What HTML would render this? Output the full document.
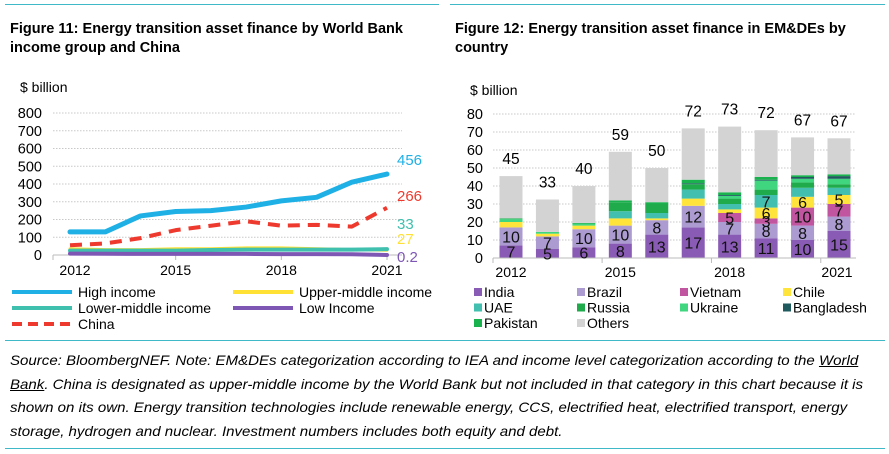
<!DOCTYPE html>
<html><head><meta charset="utf-8">
<style>
body{margin:0;width:889px;height:454px;background:#fff;font-family:"Liberation Sans",Arial,sans-serif;overflow:hidden;position:relative}
.t{position:absolute;font-weight:bold;font-size:14.5px;line-height:19px;color:#000}
.rule{position:absolute;height:1px;background:#3fb8c8}
.src{position:absolute;left:10px;top:349px;white-space:nowrap;font-style:italic;font-size:14px;line-height:23.5px;color:#000;transform-origin:0 0;transform:scaleX(1.075)}
svg{position:absolute;left:0;top:0}
svg text{font-family:"Liberation Sans",Arial,sans-serif}
</style></head><body>
<div class="rule" style="left:5px;top:4px;width:434px"></div>
<div class="rule" style="left:450px;top:4px;width:435px"></div>
<div class="t" style="left:10px;top:20px">Figure 11: Energy transition asset finance by World Bank<br>income group and China</div>
<div class="t" style="left:455px;top:20px">Figure 12: Energy transition asset finance in EM&amp;DEs by<br>country</div>
<div class="rule" style="left:5px;top:340px;width:880px"></div>
<div class="src">Source: BloombergNEF. Note: EM&amp;DEs categorization according to IEA and income level categorization according to the <u>World</u><br><u>Bank</u>. China is designated as upper-middle income by the World Bank but not included in that category in this chart because it is<br>shown on its own. Energy transition technologies include renewable energy, CCS, electrified heat, electrified transport, energy<br>storage, hydrogen and nuclear. Investment numbers includes both equity and debt.</div>
<div class="rule" style="left:5px;top:448px;width:880px"></div>
<svg id="s" width="889" height="454"></svg>
<script>
// ---- Figure 11 data ----
const years = [2012,2013,2014,2015,2016,2017,2018,2019,2020,2021];
const highIncome = [130,130,220,245,250,270,305,325,410,456];
const china = [55,65,95,140,165,190,165,170,160,266];
const upperMiddle = [35,30,30,35,35,40,40,35,30,27];
const lowerMiddle = [25,25,25,25,28,30,30,30,30,33];
const lowIncome = [8,7,6,6,6,6,5,5,4,0.2];
const leftTicks = [0,100,200,300,400,500,600,700,800];
const endLabels = ["456","266","33","27","0.2"];
// ---- Figure 12 data ----
const countries = ["India","Brazil","Vietnam","Chile","UAE","Russia","Ukraine","Bangladesh","Pakistan","Others"];
const india = [7,5,6,8,13,17,13,11,10,15];
const brazil = [10,7,10,10,8,12,7,8,8,8];
const vietnam = [0,0,0,0,0,0,5,3,10,7];
const chile = [3,1.5,2,4,1,4,2,6,6,5];
const uae = [0,0,0,4,3,5,3,7,5,4];
const russia = [0,0,0,5,5,3,3,3,3,2];
const ukraine = [1.5,1,1,0,0,0,1.5,5,2,3];
const bangladesh = [0,0,0,0,0,0.5,0.5,0.5,1,1.5];
const pakistan = [0.5,0,0.5,1,1,2,1.5,1.5,1,1];
const others = [23.5,18,20.5,27,19,28.5,36.5,26,21,20];
const totalLabels = ["45","33","40","59","50","72","73","72","67","67"];
const rightTicks = [0,10,20,30,40,50,60,70,80];
const xTickYears = [2012,2015,2018,2021];

const NS="http://www.w3.org/2000/svg";
const svg=document.getElementById('s');
function el(tag,attrs,parent){const e=document.createElementNS(NS,tag);for(const k in attrs)e.setAttribute(k,attrs[k]);(parent||svg).appendChild(e);return e;}
function txt(x,y,s,attrs){const e=el('text',Object.assign({x:x,y:y},attrs||{}));e.textContent=s;return e;}

// ---------- Left chart ----------
const L={x0:53,x1:402,y0:255,y1:113,max:800};
const ly=v=>L.y0-(v/L.max)*(L.y0-L.y1);
const lx=i=>70+i*(387-70)/(years.length-1);
let g=el('g',{});


let t=txt(20,92,"$ billion",{'font-size':14});


leftTicks.forEach(v=>{
  if(v>0){const gl=el('line',{x1:L.x0,x2:L.x1,y1:ly(v),y2:ly(v),stroke:'#c8c8c8','stroke-dasharray':'1.5,1.5'},g);
  }
  const tt=txt(42,ly(v)+5,String(v),{'font-size':14.5,'text-anchor':'end'},);
  
  
});
let ax=el('line',{x1:L.x0,x2:L.x1,y1:L.y0,y2:L.y0,stroke:'#bbb'},g);

xTickYears.forEach(y=>{const i=years.indexOf(y);
  const tk=el('line',{x1:lx(i)+(i===0?-17:0),x2:lx(i)+(i===0?-17:0),y1:L.y0,y2:L.y0+5,stroke:'#bbb'},g);
  
  const tt=txt(lx(i)+(i===0?5:0),L.y0+20,String(y),{'font-size':14,'text-anchor':'middle'});
  
});
function line(data,color,w,dash,name){
  const p=el('polyline',{points:data.map((v,i)=>lx(i)+','+ly(v)).join(' '),fill:'none',stroke:color,'stroke-width':w,'stroke-linejoin':'round','stroke-linecap':dash?'butt':'round'},g);
  if(dash)p.setAttribute('stroke-dasharray',dash);
  
}
line(upperMiddle,'#ffe135',3,null,'upper-middle-income-line');
line(lowerMiddle,'#3fbfae',4,null,'lower-middle-income-line');
line(lowIncome,'#7e57b5',4,null,'low-income-line');
line(china,'#ee3a2e',4,'12,8','china-line');
line(highIncome,'#1fb0e6',5,null,'high-income-line');
[[456,'#1fb0e6',0],[266,'#ee3a2e',1],[33,'#3fbfae',2],[27,'#ffe135',3],[0.2,'#7e57b5',4]].forEach((d,k)=>{
  const yy=[ly(456)-9,ly(266)-7,ly(33)-20,ly(27)-6,ly(0.2)+7][k];
  const tt=txt(397,yy,endLabels[k],{'font-size':15,fill:d[1]});
  
});
// left legend
[['High income','#1fb0e6',12,292,null],['Upper-middle income','#ffe135',233,292,null],['Lower-middle income','#3fbfae',12,308,null],['Low Income','#7e57b5',233,308,null],['China','#ee3a2e',12,324,'10,6']].forEach(d=>{
  const lg=el('g',{});
  
  const ln=el('line',{x1:d[2],x2:d[2]+60,y1:d[3],y2:d[3],stroke:d[1],'stroke-width':4},lg);
  if(d[4])ln.setAttribute('stroke-dasharray',d[4]);
  const tt=el('text',{x:d[2]+66,y:d[3]+5,'font-size':14},lg);tt.textContent=d[0];
});

// ---------- Right chart ----------
const R={x0:493,x1:856,y0:258,y1:114,max:80};
const ry=v=>R.y0-(v/R.max)*(R.y0-R.y1);
const rx=i=>511+i*(839-511)/(years.length-1);
const bw=23;
const colors=['#8a5bb5','#ab9bd1','#c255a0','#ffe53b','#42bfae','#1fab4c','#40d680','#1f5a5f','#19b24e','#d3d3d3'];
const series=[india,brazil,vietnam,chile,uae,russia,ukraine,bangladesh,pakistan,others];
const segLabels=[india.map(String),brazil.map(String),[null,null,null,null,null,null,"5","3","10","7"],[null,null,null,null,null,null,null,"6","6","5"],[null,null,null,null,null,null,null,"7",null,null]];
let g2=el('g',{});


t=txt(470,95,"$ billion",{'font-size':14});

rightTicks.forEach(v=>{
  if(v>0){const gl=el('line',{x1:R.x0,x2:R.x1,y1:ry(v),y2:ry(v),stroke:'#c8c8c8','stroke-dasharray':'1.5,1.5'},g2);
  }
  const tt=txt(483,ry(v)+5,String(v),{'font-size':14.5,'text-anchor':'end'});
  
});
years.forEach((y,i)=>{
  let base=0;
  series.forEach((s,k)=>{
    const v=s[i]; if(v<=0)return;
    const r=el('rect',{x:rx(i)-bw/2,y:ry(base+v),width:bw,height:ry(base)-ry(base+v),fill:colors[k]},g2);
    
    
    if(k<segLabels.length&&segLabels[k][i]){
      const tt=txt(rx(i),ry(base+v/2)+6,segLabels[k][i],{'font-size':16,'text-anchor':'middle',fill:'#111'});
      
    }
    base+=v;
  });
  const tt=txt(rx(i),ry(base)-12,totalLabels[i],{'font-size':15.5,'text-anchor':'middle'});
  
});
ax=el('line',{x1:R.x0,x2:R.x1,y1:R.y0,y2:R.y0,stroke:'#bbb'},g2);

[0,3,6,9].forEach(i=>{
  const xx=i===0?R.x0:(rx(i-1)+rx(i))/2;
  const tk=el('line',{x1:xx,x2:xx,y1:R.y0,y2:R.y0+5,stroke:'#bbb'},g2);
  
});
xTickYears.forEach(y=>{const i=years.indexOf(y);
  const tt=txt(rx(i)+(i===9?-2:0),R.y0+19,String(y),{'font-size':14,'text-anchor':'middle'});
  
});
countries.forEach((c,k)=>{
  const col=k%4,row=Math.floor(k/4);
  const x=475+col*103,y=296+row*15.5;
  const lg=el('g',{});
  
  
  el('rect',{x:x-1,y:y-8,width:8,height:8,fill:colors[k]},lg);
  const tt=el('text',{x:x+9,y:y+1,'font-size':14},lg);tt.textContent=c;
});
</script>
</body></html>
